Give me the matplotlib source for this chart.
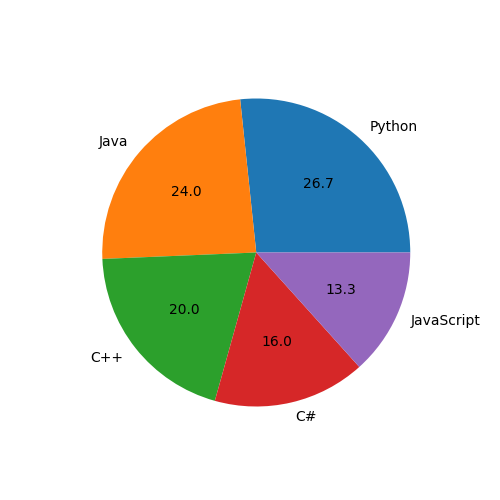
import matplotlib
matplotlib.use("Agg")
import matplotlib.pyplot as plt

languages = ["Python", "Java", "C++", "C#", "JavaScript"]
users = [20, 18, 15, 12, 10]

fig, ax = plt.subplots(figsize=(5, 5), dpi=100)
ax.pie(users, labels=languages, autopct="%.1f")

plt.savefig("out.png", dpi=100)
plt.close()
